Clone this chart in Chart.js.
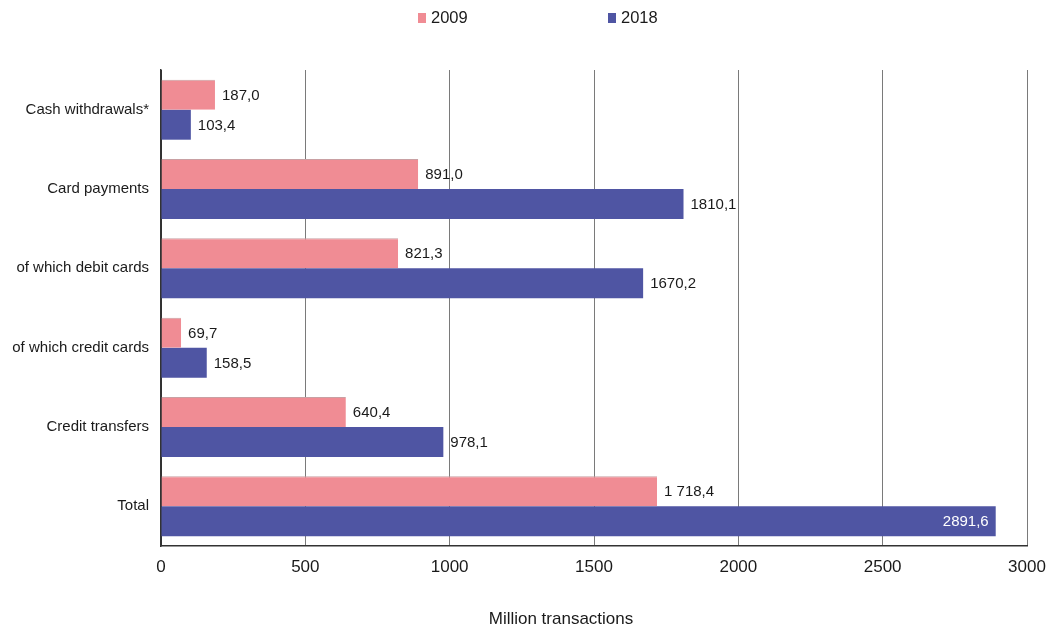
<!DOCTYPE html>
<html>
<head>
<meta charset="utf-8">
<script src="https://cdn.jsdelivr.net/npm/chart.js@4/dist/chart.umd.min.js"></script>
<style>
  html, body { margin: 0; padding: 0; background: #fff; }
  #wrap { width: 1052px; height: 628px; position: relative; }
</style>
</head>
<body>
<div id="wrap"><canvas id="c" width="1052" height="628"></canvas></div>
<script>
const categories = ['Cash withdrawals*', 'Card payments', 'of which debit cards', 'of which credit cards', 'Credit transfers', 'Total'];
const seriesNames = ['2009', '2018'];
// value labels as printed; bar lengths are parsed from the same strings
const labels2009 = ['187,0', '891,0', '821,3', '69,7', '640,4', '1 718,4'];
const labels2018 = ['103,4', '1810,1', '1670,2', '158,5', '978,1', '2891,6'];
const xTicks = [0, 500, 1000, 1500, 2000, 2500, 3000];
const axisTitle = 'Million transactions';

const toNum = s => parseFloat(s.replace(/\s/g, '').replace(',', '.'));
const values2009 = labels2009.map(toNum);
const values2018 = labels2018.map(toNum);

const FONT = '"Liberation Sans", Arial, sans-serif';
const PINK = '#F08C94';
const BLUE = '#4F55A3';

const valueLabels = {
  id: 'valueLabels',
  afterDatasetsDraw(chart) {
    const ctx = chart.ctx;
    ctx.save();
    ctx.font = '15px ' + FONT;
    ctx.textBaseline = 'middle';
    chart.data.datasets.forEach((ds, di) => {
      const meta = chart.getDatasetMeta(di);
      meta.data.forEach((bar, i) => {
        const txt = ds.valueText[i];
        const w = ctx.measureText(txt).width;
        if (bar.x + 7 + w > chart.chartArea.right) {
          ctx.fillStyle = '#ffffff';
          ctx.textAlign = 'right';
          ctx.fillText(txt, bar.x - 7, bar.y + 1);
        } else {
          ctx.fillStyle = '#1a1a1a';
          ctx.textAlign = 'left';
          ctx.fillText(txt, bar.x + 7, bar.y + 1);
        }
      });
    });
    ctx.restore();
  }
};

const topLegend = {
  id: 'topLegend',
  afterDraw(chart) {
    const ctx = chart.ctx;
    ctx.save();
    ctx.font = '16.5px ' + FONT;
    ctx.textBaseline = 'middle';
    ctx.textAlign = 'left';
    const starts = [418, 608];
    chart.data.datasets.forEach((ds, i) => {
      const x = starts[i];
      ctx.fillStyle = ds.backgroundColor;
      ctx.fillRect(x, 13, 8, 10);
      ctx.fillStyle = '#1a1a1a';
      ctx.fillText(ds.label, x + 13, 18.5);
    });
    // axis title
    ctx.font = '17px ' + FONT;
    ctx.textAlign = 'center';
    ctx.fillText(axisTitle, 561, 619);
    ctx.restore();
  }
};

new Chart(document.getElementById('c'), {
  type: 'bar',
  data: {
    labels: categories,
    datasets: [
      { label: seriesNames[0], data: values2009, valueText: labels2009, backgroundColor: PINK,
        borderColor: '#c9a0a3', borderWidth: { top: 1, right: 0, bottom: 0, left: 0 }, borderSkipped: false },
      { label: seriesNames[1], data: values2018, valueText: labels2018, backgroundColor: BLUE, borderWidth: 0 }
    ]
  },
  options: {
    indexAxis: 'y',
    responsive: false,
    animation: false,
    layout: { padding: { top: 70, right: 25, left: 0, bottom: 0 } },
    datasets: { bar: { barPercentage: 1.0, categoryPercentage: 0.757 } },
    plugins: {
      legend: { display: false },
      tooltip: { enabled: false }
    },
    scales: {
      x: {
        min: 0, max: 3000,
        afterBuildTicks(scale) { scale.ticks = xTicks.map(v => ({ value: v })); },
        afterFit(scale) { scale.height = 82; scale.paddingLeft = 0; scale.paddingRight = 0; },
        ticks: { color: '#1a1a1a', font: { family: FONT, size: 17 }, padding: 11, callback: v => String(v) },
        grid: {
          color: ctx => ctx.tick && ctx.tick.value === 0 ? '#333' : '#7a7a7a',
          lineWidth: 1,
          drawTicks: false
        },
        border: { display: true, color: '#333', width: 1.5 }
      },
      y: {
        afterFit(scale) { scale.width = 161; scale.paddingTop = 0; scale.paddingBottom = 0; },
        ticks: { color: '#1a1a1a', font: { family: FONT, size: 15 }, padding: 12 },
        grid: { display: false, drawTicks: false },
        border: { display: true, color: '#333', width: 1.5 }
      }
    }
  },
  plugins: [valueLabels, topLegend]
});
</script>
</body>
</html>
